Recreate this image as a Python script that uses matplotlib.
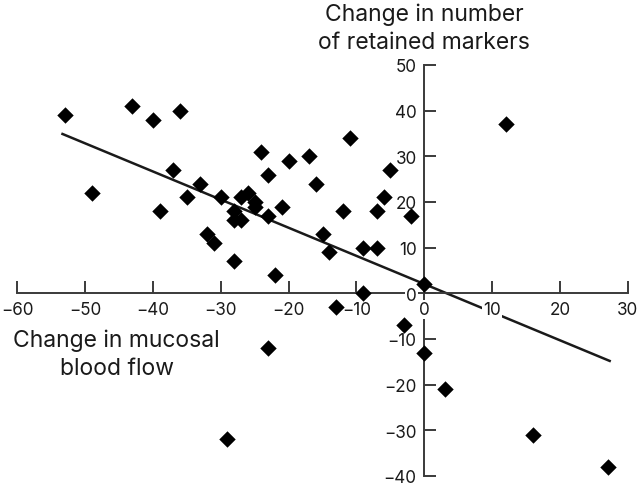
import matplotlib

matplotlib.use("Agg")
import matplotlib.pyplot as plt

# change in mucosal blood flow (x) vs change in number of retained markers (y)
flow_change = [
    -53, -43, -40, -36, -37, -33, -35, -49, -39, -32, -31, -30, -28, -28,
    -27, -27, -26, -25, -25, -24, -23, -23, -21, -20, -17, -16, -15, -14,
    -11, -12, -9, -7, -7, -6, -5, -2, -28, 12, -22, -23, -29, -13, -9, 0,
    -3, 0, 3, 16, 27,
]
marker_change = [
    39, 41, 38, 40, 27, 24, 21, 22, 18, 13, 11, 21, 18, 16,
    16, 21, 22, 20, 19, 31, 26, 17, 19, 29, 30, 24, 13, 9,
    34, 18, 10, 10, 18, 21, 27, 17, 7, 37, 4, -12, -32, -3, 0, 2,
    -7, -13, -21, -31, -38,
]

# regression line end points
fit_x = [-53.3, 27.3]
fit_y = [34.9, -14.8]

x_ticks = [-60, -50, -40, -30, -20, -10, 0, 10, 20, 30]
y_ticks = [-40, -30, -20, -10, 0, 10, 20, 30, 40, 50]

ink = "#1a1a1a"
axis_col = "#3a3a3a"
plt.rcParams["font.family"] = ["Inter", "DejaVu Sans"]


def tick_text(v):
    return f"\u2212{abs(v)}" if v < 0 else str(v)


fig = plt.figure(figsize=(6.4, 4.85), dpi=100)
ax = fig.add_axes([17 / 640, 8 / 485, 611 / 640, 411 / 485])

ax.plot(fit_x, fit_y, color=ink, linewidth=1.8, zorder=2)
ax.scatter(flow_change, marker_change, marker="D", s=70, color="black",
           linewidths=0, zorder=3)

ax.set_xlim(-60, 30)
ax.set_ylim(-40, 50)
ax.set_axisbelow(False)

for side in ("top", "right"):
    ax.spines[side].set_visible(False)
ax.spines["left"].set_position(("data", 0))
ax.spines["bottom"].set_position(("data", 0))
for side in ("left", "bottom"):
    ax.spines[side].set_linewidth(1.4)
    ax.spines[side].set_color(axis_col)
    ax.spines[side].set_zorder(2.2)

ax.set_xticks(x_ticks)
ax.set_yticks(y_ticks)
ax.set_xticklabels([tick_text(v) for v in x_ticks])
ax.set_yticklabels([tick_text(v) for v in y_ticks])
ax.tick_params(axis="both", direction="in", length=8.5, width=1.4,
               color=axis_col, labelsize=12.3, labelcolor=ink)
ax.tick_params(axis="x", pad=5.5)
ax.tick_params(axis="y", pad=5.5)

for tick in ax.xaxis.get_major_ticks() + ax.yaxis.get_major_ticks():
    tick.label1.set_bbox(dict(boxstyle="square,pad=0.08", facecolor="white",
                              edgecolor="none"))

ax.text(0, 63.6, "Change in number\nof retained markers", ha="center",
        va="top", fontsize=16.5, color=ink, linespacing=1.35)
ax.text(-45.3, -7.8, "Change in mucosal\nblood flow", ha="center",
        va="top", fontsize=16.5, color=ink, linespacing=1.35)

fig.savefig("out.png", dpi=100, facecolor="white")
plt.close(fig)
